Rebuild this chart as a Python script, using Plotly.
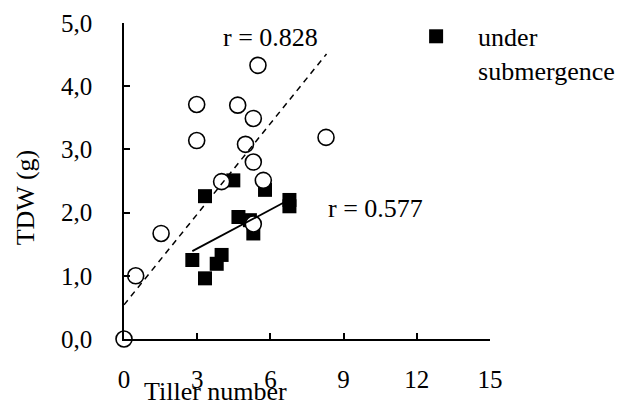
import plotly.graph_objects as go

# ---- data ----
# open circles (control)
ctrl_x = [5.49, 2.98, 4.66, 5.30, 2.98, 4.98, 8.28, 5.30, 4.00, 5.71, 1.52, 0.48, 5.30, 0.0]
ctrl_y = [4.33, 3.71, 3.70, 3.49, 3.14, 3.08, 3.19, 2.80, 2.49, 2.51, 1.67, 1.00, 1.82, 0.0]

# filled squares (under submergence)
sub_x = [4.48, 3.32, 5.78, 6.78, 6.78, 4.69, 5.16, 5.30, 2.80, 4.00, 3.80, 3.32]
sub_y = [2.51, 2.26, 2.36, 2.20, 2.10, 1.93, 1.88, 1.67, 1.25, 1.33, 1.19, 0.96]

# trend lines (end points)
ctrl_trend_x = [0.0, 8.3]
ctrl_trend_y = [0.54, 4.51]
sub_trend_x = [2.8, 6.8]
sub_trend_y = [1.39, 2.21]

x_ticks = [0, 3, 6, 9, 12, 15]
y_ticks = [0, 1, 2, 3, 4, 5]
y_tick_labels = ["0,0", "1,0", "2,0", "3,0", "4,0", "5,0"]

r_ctrl_label = "r = 0.828"
r_sub_label = "r = 0.577"
legend_label = "under<br>submergence"
x_title = "Tiller number"
y_title = "TDW (g)"

FONT = "Liberation Serif"
FS_TICK = 25
FS = 26

fig = go.Figure()

fig.add_trace(go.Scatter(
    x=sub_x, y=sub_y, mode="markers", name=legend_label,
    marker=dict(symbol="square", size=14, color="black", line=dict(width=0)),
    cliponaxis=False, showlegend=True))

fig.add_trace(go.Scatter(
    x=ctrl_x, y=ctrl_y, mode="markers", name="control",
    marker=dict(symbol="circle", size=16, color="white", line=dict(color="black", width=1.6)),
    cliponaxis=False, showlegend=False))

fig.add_trace(go.Scatter(
    x=ctrl_trend_x, y=ctrl_trend_y, mode="lines",
    line=dict(color="black", width=1.5, dash="6px,5px"),
    cliponaxis=False, showlegend=False, hoverinfo="skip"))

fig.add_trace(go.Scatter(
    x=sub_trend_x, y=sub_trend_y, mode="lines",
    line=dict(color="black", width=1.8),
    cliponaxis=False, showlegend=False, hoverinfo="skip"))

axis_common = dict(
    showgrid=False, zeroline=False, showline=True, linecolor="black", linewidth=1.5,
    ticks="inside", ticklen=6, tickwidth=1.5, tickcolor="black",
    tickfont=dict(family=FONT, size=FS_TICK, color="black"),
    automargin=False,
)

fig.update_layout(
    width=618, height=403,
    margin=dict(l=124, r=128, t=23, b=64, autoexpand=False),
    paper_bgcolor="white", plot_bgcolor="white",
    font=dict(family=FONT, size=FS, color="black"),
    xaxis=dict(range=[0, 15], tickvals=x_ticks, ticklabelstandoff=17, **axis_common),
    yaxis=dict(range=[0, 5], tickvals=y_ticks, ticktext=y_tick_labels,
               ticklabelstandoff=25, **axis_common),
    legend=dict(x=0.738, y=1.032, xanchor="left", yanchor="top", valign="top",
                bgcolor="rgba(0,0,0,0)", itemwidth=74,
                font=dict(family=FONT, size=FS, color="black")),
    annotations=[
        dict(x=6.02, y=4.77, xref="x", yref="y", text=r_ctrl_label, showarrow=False,
             xanchor="center", yanchor="middle",
             font=dict(family=FONT, size=FS, color="black")),
        dict(x=10.3, y=2.07, xref="x", yref="y", text=r_sub_label, showarrow=False,
             xanchor="center", yanchor="middle",
             font=dict(family=FONT, size=FS, color="black")),
        dict(x=0.249, y=-0.165, xref="paper", yref="paper", text=x_title, showarrow=False,
             xanchor="center", yanchor="middle",
             font=dict(family=FONT, size=FS, color="black")),
        dict(x=-0.270, y=0.449, xref="paper", yref="paper", text=y_title, showarrow=False,
             xanchor="center", yanchor="middle", textangle=-90,
             font=dict(family=FONT, size=FS, color="black")),
    ],
)

fig.write_html(
    "out.html",
    config={"displayModeBar": False},
    post_script="document.body.style.margin='0';document.body.style.padding='0';",
)
